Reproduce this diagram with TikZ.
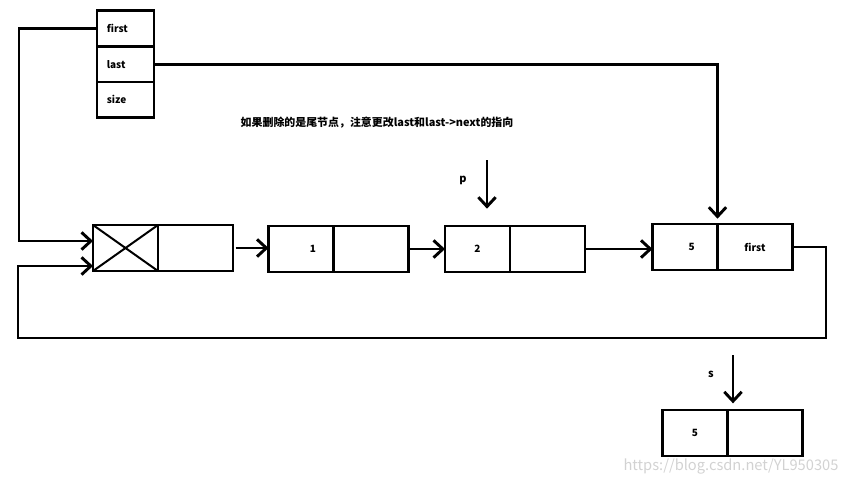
\documentclass[tikz,border=0pt]{standalone}
\usepackage{fontspec}
\setmainfont{Noto Sans CJK SC}
\usetikzlibrary{positioning,arrows.meta}
\begin{document}
\begin{tikzpicture}[>={Straight Barb[length=7pt,width=13pt]},x=0.75pt,y=-0.75pt,line width=2.2pt,
		cell/.style={draw,minimum width=48.75pt,minimum height=34.5pt,inner sep=0pt,outer sep=0pt,font=\bfseries\fontsize{7.5}{9}\selectfont},
		ncell/.style={cell,minimum width=56.25pt},
		field/.style={draw,minimum width=42.75pt,minimum height=26.75pt,inner sep=0pt,outer sep=0pt,text width=28pt,align=left,font=\bfseries\fontsize{7.5}{9}\selectfont},
		lbl/.style={font=\bfseries\fontsize{8.2}{10}\selectfont}]
				\useasboundingbox (0,0) rectangle (850,483);
				% header
				\node[field] (first) at (125.5,28.5) {first};
				\node[field,below=0pt of first] (last) {last};
				\node[field,below=0pt of last] (size) {size};
				% list
				\node[cell] (headv) at (125.5,248) {};
				\node[ncell,right=0pt of headv] (headn) {};
				\node[cell] (v1) at (301,249) {\hspace{18pt}1};
				\node[ncell,right=0pt of v1] (n1) {};
				\node[cell] (v2) at (477.5,249) {2};
				\node[ncell,right=0pt of v2] (n2) {};
				\node[cell] (v5) at (685,247) {\hspace{10pt}5};
				\node[ncell,right=0pt of v5] (n5) {first};
				\node[cell] (sv) at (695,433) {5};
				\node[ncell,right=0pt of sv] (sn) {};
				\draw[line width=1.5pt] (headv.north west)--(headv.south east) (headv.south west)--(headv.north east);
				% labels
				\node[lbl] (plabel) at (463,180) {p};
				\node[lbl] (slabel) at (711,374) {s};
				\node[lbl] (note) at (377,123) {如果删除的是尾节点，注意更改last和last->next的指向};
				\node[text=gray!35,font=\fontsize{11}{13}\selectfont] (mark) at (731,466) {https://blog.csdn.net/YL950305};
				% links
				\coordinate (lf) at (19,241);
				\coordinate (lr) at (826,338);
				\coordinate (lu) at (18,266);
				\coordinate (ptop) at (487,160);
				\coordinate (stop) at (733,355);
				\draw[->] (first.west) -| (lf) -- (lf -| headv.west);
				\draw[->,shorten >=4pt] (last.east) -| (v5.north east);
				\draw[->] (n5.east) -| (lr) -| (lu) -- (lu -| headv.west);
				\draw[->,shorten <=2pt] (headn.east) -- (headn.east -| v1.west);
				\draw[->] (n1.east) -- (n1.east -| v2.west);
				\draw[->] (n2.east) -- (n2.east -| v5.west);
				\draw[->,shorten >=13pt] (ptop) -- (ptop |- v2.north);
				\draw[->,shorten >=5pt] (stop) -- (stop |- sv.north);
		\end{tikzpicture}
\end{document}
